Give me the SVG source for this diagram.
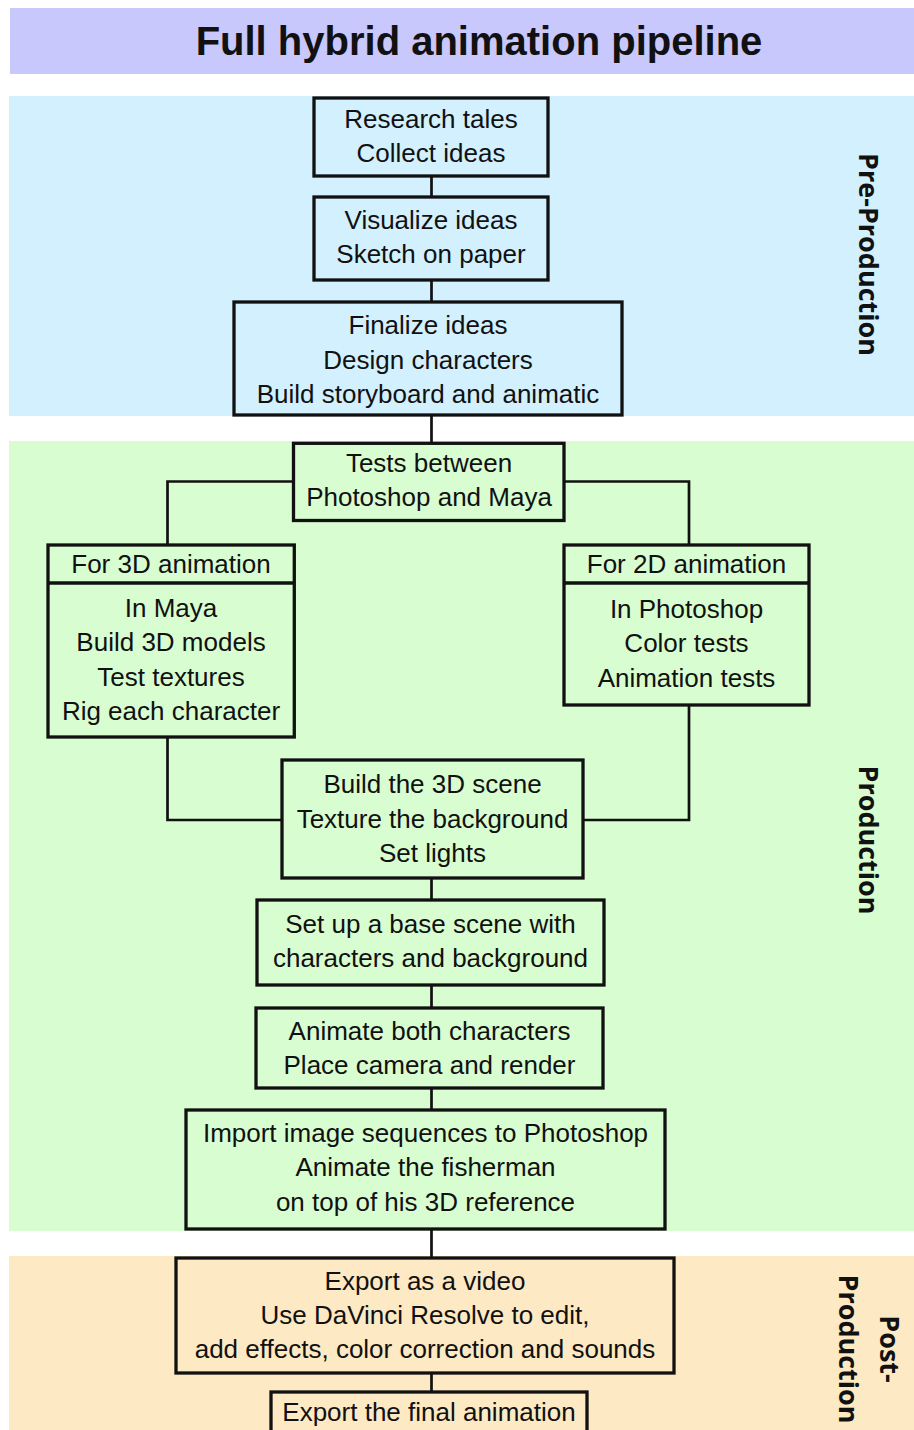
<svg xmlns="http://www.w3.org/2000/svg" width="914" height="1430" viewBox="0 0 914 1430">
<style>
.box{fill:none;stroke:#111;stroke-width:3.3}
.t{font-family:"Liberation Sans",Arial,sans-serif;font-size:26px;fill:#111;text-anchor:middle}
.lbl{font-family:"Open Sans","Noto Sans",sans-serif;font-size:27px;font-weight:700;fill:#111;text-anchor:middle}
.con{fill:none;stroke:#111;stroke-width:2.7}
</style>
<rect width="914" height="1430" fill="#fff"/>
<g id="bands">
<rect x="10" y="8" width="904" height="66" fill="#c8c8fd"/>
<rect x="9" y="96" width="905" height="320" fill="#d2f0fe"/>
<rect x="9" y="441" width="905" height="790" fill="#d8fdd0"/>
<rect x="9" y="1256" width="905" height="174" fill="#fde9c3"/>
</g>
<text id="title" x="479" y="55" style="font-family:'Liberation Sans',Arial,sans-serif;font-size:40px;font-weight:700;fill:#111;text-anchor:middle">Full hybrid animation pipeline</text>
<g id="section-labels">
<text class="lbl" transform="translate(859,254.5) rotate(90)">Pre-Production</text>
<text class="lbl" transform="translate(859,840) rotate(90)">Production</text>
<text class="lbl" transform="translate(880,1349) rotate(90)">Post-</text>
<text class="lbl" transform="translate(839,1349) rotate(90)">Production</text>
</g>
<g id="connectors">
<path class="con" d="M431.5 176V197M431.5 280V302M431.5 415V443M431.5 878V900M431.5 985V1008M431.5 1088V1110M431.5 1229V1258M431.5 1373V1392"/>
<path class="con" d="M293.5 481.5H167.5V545M564 481.5H689V545"/>
<path class="con" d="M167.5 737V820H282M689 705V820H583"/>
</g>
<g id="n1"><rect class="box" x="314" y="98" width="234" height="78"/>
<text class="t" x="431" y="128">Research tales</text><text class="t" x="431" y="162">Collect ideas</text></g>
<g id="n2"><rect class="box" x="314" y="197" width="234" height="83"/>
<text class="t" x="431" y="229">Visualize ideas</text><text class="t" x="431" y="263">Sketch on paper</text></g>
<g id="n3"><rect class="box" x="234" y="302" width="388" height="113"/>
<text class="t" x="428" y="334">Finalize ideas</text><text class="t" x="428" y="369">Design characters</text><text class="t" x="428" y="403">Build storyboard and animatic</text></g>
<g id="n4"><rect class="box" x="293.5" y="443.3" width="270.5" height="77.2"/>
<text class="t" x="429" y="472">Tests between</text><text class="t" x="429" y="506">Photoshop and Maya</text></g>
<g id="n5"><rect class="box" x="48" y="545" width="246.3" height="192"/><line class="box" x1="48" y1="583" x2="294.3" y2="583"/>
<text class="t" x="171" y="573">For 3D animation</text>
<text class="t" x="171" y="617">In Maya</text><text class="t" x="171" y="651">Build 3D models</text><text class="t" x="171" y="686">Test textures</text><text class="t" x="171" y="720">Rig each character</text></g>
<g id="n6"><rect class="box" x="564" y="545" width="245" height="160"/><line class="box" x1="564" y1="583" x2="809" y2="583"/>
<text class="t" x="686.5" y="573">For 2D animation</text>
<text class="t" x="686.5" y="618">In Photoshop</text><text class="t" x="686.5" y="652">Color tests</text><text class="t" x="686.5" y="687">Animation tests</text></g>
<g id="n7"><rect class="box" x="282" y="760" width="301" height="118"/>
<text class="t" x="432.5" y="793">Build the 3D scene</text><text class="t" x="432.5" y="828">Texture the background</text><text class="t" x="432.5" y="862">Set lights</text></g>
<g id="n8"><rect class="box" x="257" y="900" width="347" height="85"/>
<text class="t" x="430.5" y="933">Set up a base scene with</text><text class="t" x="430.5" y="967">characters and background</text></g>
<g id="n9"><rect class="box" x="256" y="1008" width="347" height="80"/>
<text class="t" x="429.5" y="1040">Animate both characters</text><text class="t" x="429.5" y="1074">Place camera and render</text></g>
<g id="n10"><rect class="box" x="186" y="1110" width="479" height="119"/>
<text class="t" x="425.5" y="1142">Import image sequences to Photoshop</text><text class="t" x="425.5" y="1176">Animate the fisherman</text><text class="t" x="425.5" y="1211">on top of his 3D reference</text></g>
<g id="n11"><rect class="box" x="176" y="1258" width="498" height="115"/>
<text class="t" x="425" y="1290">Export as a video</text><text class="t" x="425" y="1324">Use DaVinci Resolve to edit,</text><text class="t" x="425" y="1358">add effects, color correction and sounds</text></g>
<g id="n12"><rect class="box" x="271" y="1392" width="316" height="50"/>
<text class="t" x="429" y="1421">Export the final animation</text></g>
</svg>
